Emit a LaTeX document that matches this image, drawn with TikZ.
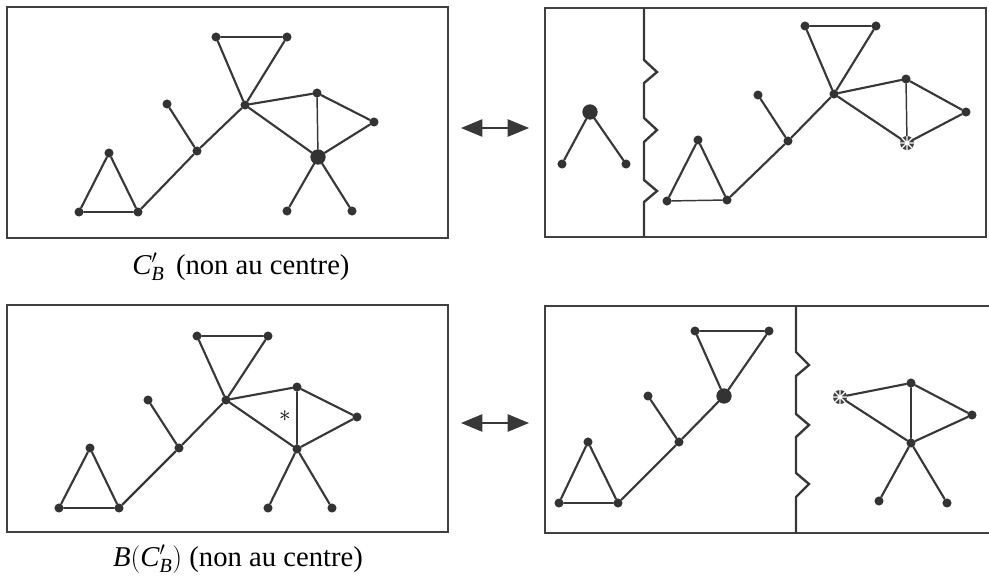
\documentclass[tikz,border=0pt]{standalone}
\usepackage{fontspec}
\setmainfont{Liberation Serif}
\usetikzlibrary{arrows.meta}
\begin{document}
\begin{tikzpicture}[x=0.75pt,y=-0.75pt,
  ln/.style={line width=1.6pt, draw=black!78, line cap=round},
  thinln/.style={line width=1.1pt, draw=black!78, line cap=round},
  dot/.style={circle, fill=black!80, inner sep=0pt, minimum size=6.8pt},
  bigdot/.style={circle, fill=black!80, inner sep=0pt, minimum size=11.5pt},
  stardot/.style={circle, fill=black!75, inner sep=0pt, minimum size=10.5pt,
    path picture={\draw[white,line width=0.9pt]
      (path picture bounding box.north)--(path picture bounding box.south)
      (path picture bounding box.east)--(path picture bounding box.west)
      (path picture bounding box.north east)--(path picture bounding box.south west)
      (path picture bounding box.north west)--(path picture bounding box.south east);
      \fill[white] (path picture bounding box.center) circle (1.3pt);}},
  frame/.style={line width=1.8pt, draw=black!75},
  zig/.style={line width=1.8pt, draw=black!78, line join=miter},
  dbl/.style={line width=1.1pt, draw=black!78, {Triangle[length=16pt,width=13pt]}-{Triangle[length=16pt,width=13pt]}, fill=black!78},
  captxt/.style={font=\fontsize{21.5}{25}\selectfont, anchor=base, inner sep=0pt},
]
\useasboundingbox (0,0) rectangle (989,582);

% ---------- frames ----------
\draw[frame] (7,7) rectangle (448,238);
\draw[frame] (545,8) rectangle (986,237);
\draw[frame] (7,305) rectangle (448,532);
\draw[frame] (989,306) -- (545,306) -- (545,533) -- (989,533);

% ---------- top-left ----------
\node[dot] (a1) at (79,212) {};
\node[dot] (a2) at (109,153) {};
\node[dot] (a3) at (138,212) {};
\node[dot] (a4) at (197,151) {};
\node[dot] (a5) at (167,104) {};
\node[dot] (a6) at (245,105) {};
\node[dot] (a7) at (216,37) {};
\node[dot] (a8) at (287,37) {};
\node[dot] (a9) at (317,93) {};
\node[dot] (a10) at (374,122) {};
\node[bigdot] (a11) at (318,157) {};
\node[dot] (a12) at (287,211) {};
\node[dot] (a13) at (352,211) {};
\draw[ln] (a1) -- (a2) -- (a3);
\draw[thinln] (a1) -- (a3);
\draw[ln] (a3) -- (a4) -- (a6);
\draw[ln] (a5) -- (a4);
\draw[ln] (a7) -- (a6) -- (a8);
\draw[thinln] (a7) -- (a8);
\draw[ln] (a6) -- (a9);
\draw[ln] (a6) -- (a11);
\draw[ln] (a9) -- (a10) -- (a11);
\draw[thinln] (a9) -- (a11);
\draw[ln] (a11) -- (a12);
\draw[ln] (a11) -- (a13);
\node[captxt] (capA) at (241,274) {$\mathit{C}'_{\mathit{B}}$\hspace{0.15em} (non au centre)};

% ---------- top-right ----------
\draw[zig] (644,8) -- (644,60) -- (657,72) -- (644,83) -- (644,118) -- (657,130) -- (644,142)
  -- (644,180) -- (657,191) -- (644,202) -- (644,236);
\node[bigdot] (b0) at (590,112) {};
\node[dot] (b01) at (562,164) {};
\node[dot] (b02) at (626,164) {};
\draw[ln] (b0) -- (b01);
\draw[ln] (b0) -- (b02);
\node[dot] (b1) at (667,201) {};
\node[dot] (b2) at (698,140) {};
\node[dot] (b3) at (727,200) {};
\node[dot] (b4) at (788,141) {};
\node[dot] (b5) at (758,95) {};
\node[dot] (b6) at (834,94) {};
\node[dot] (b7) at (805,26) {};
\node[dot] (b8) at (876,26) {};
\node[dot] (b9) at (906,79) {};
\node[dot] (b10) at (966,112) {};
\node[stardot] (b11) at (907,143) {};
\draw[ln] (b1) -- (b2) -- (b3);
\draw[thinln] (b1) -- (b3);
\draw[ln] (b3) -- (b4) -- (b6);
\draw[ln] (b5) -- (b4);
\draw[ln] (b7) -- (b6) -- (b8);
\draw[ln] (b7) -- (b8);
\draw[ln] (b6) -- (b9);
\draw[ln] (b6) -- (b11);
\draw[ln] (b9) -- (b10) -- (b11);
\draw[thinln] (b9) -- (b11);

% ---------- bottom-left ----------
\node[dot] (c1) at (59,508) {};
\node[dot] (c2) at (90,448) {};
\node[dot] (c3) at (119,508) {};
\node[dot] (c4) at (179,448) {};
\node[dot] (c5) at (148,400) {};
\node[dot] (c6) at (226,400) {};
\node[dot] (c7) at (197,336) {};
\node[dot] (c8) at (268,336) {};
\node[dot] (c9) at (297,387) {};
\node[dot] (c10) at (357,417) {};
\node[dot] (c11) at (297,449) {};
\node[dot] (c12) at (268,508) {};
\node[dot] (c13) at (332,508) {};
\draw[ln] (c1) -- (c2) -- (c3);
\draw[thinln] (c1) -- (c3);
\draw[ln] (c3) -- (c4) -- (c6);
\draw[ln] (c5) -- (c4);
\draw[ln] (c7) -- (c6) -- (c8);
\draw[ln] (c7) -- (c8);
\draw[ln] (c6) -- (c9);
\draw[ln] (c6) -- (c11);
\draw[ln] (c9) -- (c10) -- (c11);
\draw[thinln] (c9) -- (c11);
\draw[ln] (c11) -- (c12);
\draw[ln] (c11) -- (c13);
\node[font=\fontsize{17}{20}\selectfont, inner sep=0pt] (ast) at (285,416) {$*$};
\node[captxt] (capB) at (238,566) {$\mathit{B}(\mathit{C}'_{\mathit{B}})$ (non au centre)};

% ---------- bottom-right ----------
\draw[zig] (796,306) -- (796,352) -- (809,365) -- (796,376) -- (796,414) -- (809,425) -- (796,437)
  -- (796,473) -- (809,484) -- (796,497) -- (796,533);
\node[dot] (d1) at (559,503) {};
\node[dot] (d2) at (588,442) {};
\node[dot] (d3) at (618,503) {};
\node[dot] (d4) at (679,442) {};
\node[dot] (d5) at (648,396) {};
\node[bigdot] (d6) at (724,396) {};
\node[dot] (d7) at (695,331) {};
\node[dot] (d8) at (769,331) {};
\draw[ln] (d1) -- (d2) -- (d3);
\draw[thinln] (d1) -- (d3);
\draw[ln] (d3) -- (d4) -- (d6);
\draw[ln] (d5) -- (d4);
\draw[ln] (d7) -- (d6) -- (d8);
\draw[ln] (d7) -- (d8);
\node[stardot] (e0) at (840,397) {};
\node[dot] (e1) at (911,383) {};
\node[dot] (e2) at (972,415) {};
\node[dot] (e3) at (911,443) {};
\node[dot] (e4) at (879,501) {};
\node[dot] (e5) at (947,503) {};
\draw[ln] (e0) -- (e1);
\draw[ln] (e0) -- (e3);
\draw[ln] (e1) -- (e2) -- (e3);
\draw[thinln] (e1) -- (e3);
\draw[ln] (e3) -- (e4);
\draw[ln] (e3) -- (e5);

% ---------- double arrows ----------
\coordinate (tl) at (461,128);
\coordinate (tr) at (529,128);
\coordinate (bl) at (461,423);
\coordinate (br) at (529,423);
\draw[dbl] (tl) -- (tr);
\draw[dbl] (bl) -- (br);
\end{tikzpicture}
\end{document}
